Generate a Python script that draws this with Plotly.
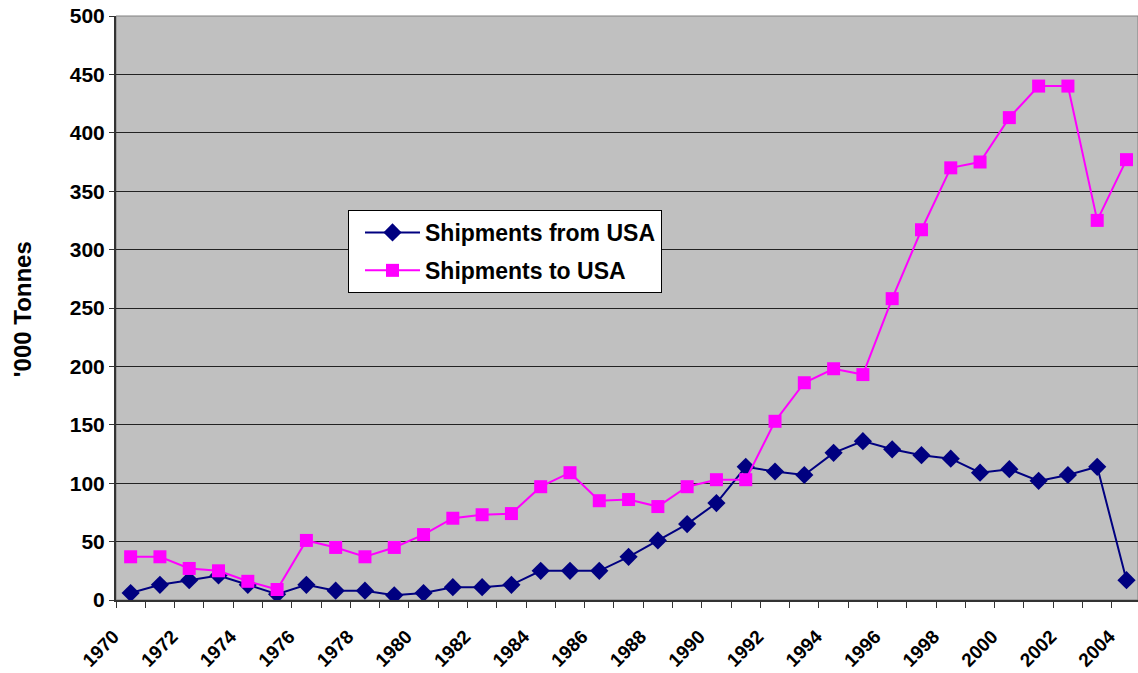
import plotly.graph_objects as go

years = list(range(1970, 2005))
from_usa = [6, 13, 17, 21, 13, 5, 13, 8, 8, 4, 6, 11, 11, 13, 25, 25, 25, 37, 51, 65,
            83, 114, 110, 107, 126, 136, 129, 124, 121, 109, 112, 102, 107, 114, 17]
to_usa = [37, 37, 27, 25, 16, 9, 51, 45, 37, 45, 56, 70, 73, 74, 97, 109, 85, 86, 80, 97,
          103, 103, 153, 186, 198, 193, 258, 317, 370, 375, 413, 440, 440, 325, 377]
tick_years = list(range(1970, 2005, 2))
tick_labels = [str(y) for y in tick_years]

FONT = "Liberation Sans, Arial, sans-serif"

fig = go.Figure()
fig.add_trace(go.Scatter(
    x=years, y=from_usa, name="Shipments from USA", mode="lines+markers",
    line=dict(color="#000080", width=2),
    marker=dict(symbol="diamond", size=14, color="#000080"),
    legendgroup="a"))
fig.add_trace(go.Scatter(
    x=years, y=to_usa, name="Shipments to USA", mode="lines+markers",
    line=dict(color="#FF00FF", width=2),
    marker=dict(symbol="square", size=13, color="#FF00FF"),
    legendgroup="b"))

# plot area: left edge at 116 px, 29.29 px per year, runs past the right edge of the canvas
plot_w = 1138 - 116
fig.update_layout(
    width=1138, height=673,
    margin=dict(l=116, r=0, t=16, b=73),
    paper_bgcolor="white",
    plot_bgcolor="#C0C0C0",
    font=dict(family=FONT, color="black"),
    showlegend=True,
    legend=dict(
        x=(348 - 116) / plot_w, y=(600 - 210) / 584, xanchor="left", yanchor="top",
        bgcolor="white", bordercolor="black", borderwidth=1,
        font=dict(family=FONT, size=23, color="black", weight="bold"),
        tracegroupgap=5, itemwidth=55, indentation=11,
    ),
    xaxis=dict(
        range=[1969.5, 1969.5 + plot_w / 29.29],
        tickmode="array", tickvals=tick_years, ticktext=tick_labels,
        tickangle=-45, ticks="", showgrid=False, zeroline=False,
        tickfont=dict(family=FONT, size=19, color="black", weight="bold"),
        showline=True, linecolor="#333333", linewidth=2,
        ticklabelshift=-17, ticklabelstandoff=16,
        automargin=False,
        minor=dict(ticks="outside", tick0=1969.5, dtick=1, ticklen=6,
                   tickcolor="#333333", tickwidth=1, showgrid=False),
    ),
    yaxis=dict(
        range=[0, 500], dtick=50, tick0=0,
        showgrid=True, gridcolor="#222222", gridwidth=1,
        ticks="outside", ticklen=5, tickcolor="#333333",
        showline=True, linecolor="#333333", linewidth=2,
        zeroline=False, automargin=False,
        tickfont=dict(family=FONT, size=21, color="black", weight="bold"),
    ),
    annotations=[dict(
        text="'000 Tonnes", textangle=-90, showarrow=False,
        xref="paper", yref="paper", x=(22 - 116) / plot_w, y=0.498,
        xanchor="center", yanchor="middle",
        font=dict(family=FONT, size=24, color="black", weight="bold"),
    )],
)
fig.add_shape(type="rect", xref="paper", yref="paper", x0=0, y0=0, x1=1, y1=1,
              line=dict(color="#808080", width=1), layer="below")

fig.write_html("out.html", post_script="document.body.style.margin='0';",
               config={"displayModeBar": False})
